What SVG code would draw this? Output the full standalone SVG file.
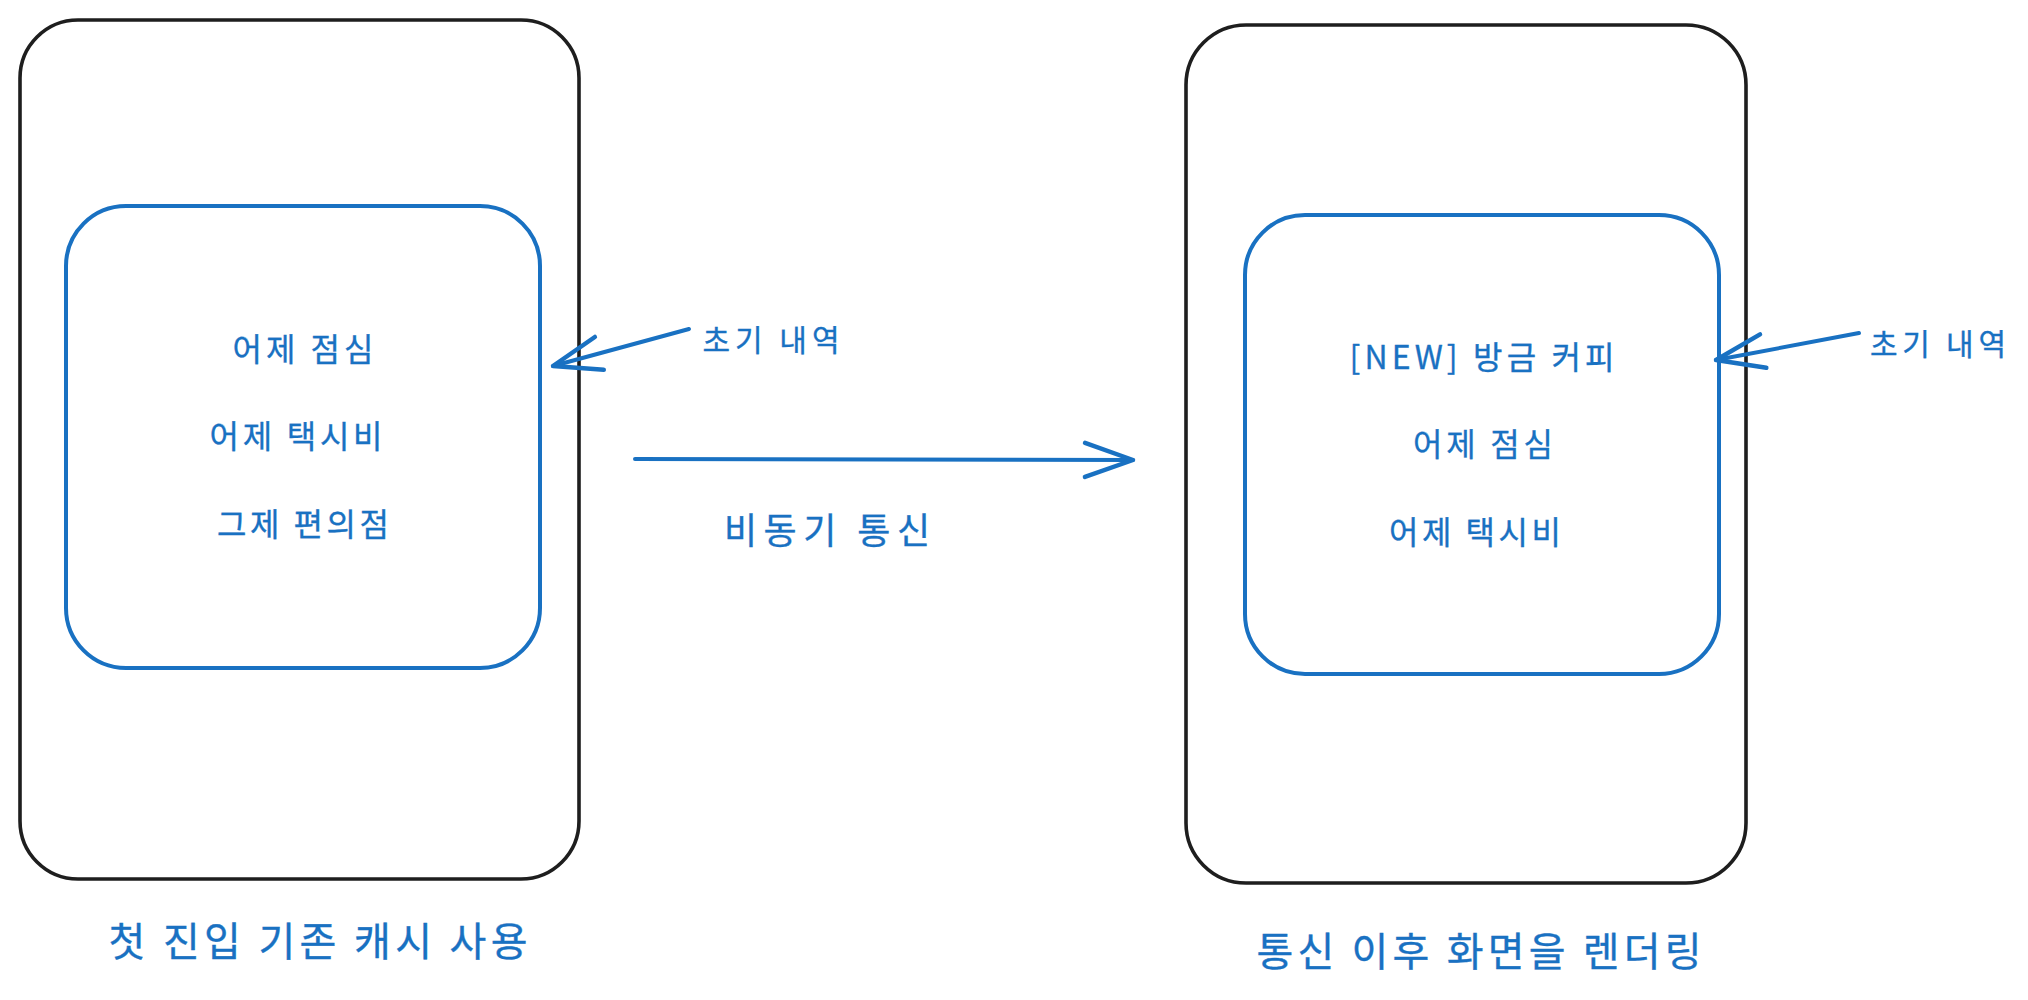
<svg xmlns="http://www.w3.org/2000/svg" width="2028" height="1000" viewBox="0 0 2028 1000">
<style>
  .outer { fill: none; stroke: #1e1e1e; stroke-width: 3.6; }
  .inner { fill: none; stroke: #1971c2; stroke-width: 4; }
  .t { font-family: "Noto Sans CJK KR", "Noto Sans", sans-serif; fill: #1971c2; stroke: #1971c2; stroke-width: 0.35; text-anchor: middle; dominant-baseline: central; }
  .item { font-size: 32px; }
  .note { font-size: 30px; }
  .label { font-size: 36px; }
  .title { font-size: 40px; }
  .conn { fill: none; stroke: #1971c2; stroke-width: 4; stroke-linecap: round; marker-end: url(#ah); }
</style>
<defs>
  <marker id="ah" markerUnits="userSpaceOnUse" markerWidth="120" markerHeight="120" refX="0" refY="0" orient="auto" overflow="visible">
    <path d="M-48,-17 L0,0 L-48,17" fill="none" stroke="#1971c2" stroke-width="4.5" stroke-linecap="round" stroke-linejoin="round"/>
  </marker>
</defs>
<rect width="2028" height="1000" fill="#ffffff"/>

<g id="left-screen">
  <rect class="outer" x="20" y="20" width="559" height="859" rx="58"/>
  <text class="t title" x="318" y="939" textLength="419" lengthAdjust="spacing">첫 진입 기존 캐시 사용</text>
</g>
<g id="left-list">
  <rect class="inner" x="66" y="206" width="474" height="462" rx="60"/>
  <text class="t item" x="303" y="347" textLength="141" lengthAdjust="spacing">어제 점심</text>
  <text class="t item" x="296" y="434" textLength="173" lengthAdjust="spacing">어제 택시비</text>
  <text class="t item" x="303" y="522" textLength="172" lengthAdjust="spacing">그제 편의점</text>
</g>
<g id="left-note">
  <text class="t note" x="771" y="338" textLength="137" lengthAdjust="spacing">초기 내역</text>
</g>

<g id="right-screen">
  <rect class="outer" x="1186" y="25" width="560" height="858" rx="60"/>
  <text class="t title" x="1479" y="949" textLength="445" lengthAdjust="spacing">통신 이후 화면을 렌더링</text>
</g>
<g id="right-list">
  <rect class="inner" x="1245" y="215" width="474" height="459" rx="60"/>
  <text class="t item" x="1482" y="355" textLength="265" lengthAdjust="spacing">[NEW] 방금 커피</text>
  <text class="t item" x="1483" y="442" textLength="140" lengthAdjust="spacing">어제 점심</text>
  <text class="t item" x="1475" y="530" textLength="172" lengthAdjust="spacing">어제 택시비</text>
</g>
<g id="right-note">
  <text class="t note" x="1938" y="342" textLength="136" lengthAdjust="spacing">초기 내역</text>
</g>

<g id="async-label">
  <text class="t label" x="827" y="528" textLength="206" lengthAdjust="spacing">비동기 통신</text>
</g>

<g id="connectors">
  <path class="conn" d="M635,459 L1133,460"/>
  <path class="conn" d="M689,329 L553,366"/>
  <path class="conn" d="M1859,333 L1716,360"/>
</g>
</svg>
